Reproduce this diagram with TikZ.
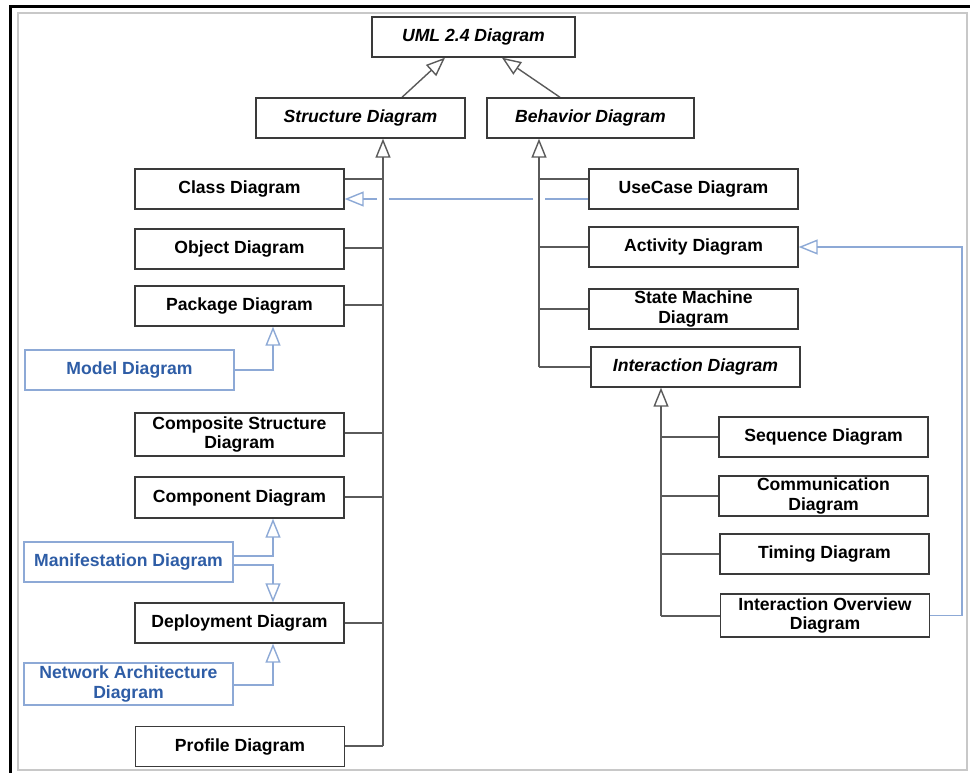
\documentclass[tikz,border=0pt]{standalone}
\usepackage{fontspec}
\setmainfont{Liberation Sans}
\usetikzlibrary{arrows.meta,backgrounds}
\definecolor{boxline}{HTML}{3A3A3A}
\definecolor{conline}{HTML}{5A5A5A}
\definecolor{bluetxt}{HTML}{2E5DA6}
\definecolor{blueline}{HTML}{8DA9D6}
\definecolor{framegray}{HTML}{C8C8C8}
\begin{document}
\begin{tikzpicture}[x=1pt,y=-1pt,
 box/.style={draw=boxline, line width=1.4pt, fill=white, minimum width=209pt, minimum height=40pt, inner sep=0pt, align=center, font=\fontsize{17.6}{19.5}\selectfont\bfseries},
 abox/.style={box, font=\fontsize{17.6}{19.5}\selectfont\bfseries\itshape},
 bbox/.style={box, draw=blueline, text=bluetxt},
 conn/.style={draw=conline, line width=1.4pt},
 bconn/.style={draw=blueline, line width=1.4pt},
 gen/.style={-{Triangle[open, length=19pt, width=15pt]}},
]
\useasboundingbox (0,0) rectangle (970,773);

% nodes
\node[abox, minimum width=203pt] (uml) at (473.5,37) {UML 2.4 Diagram};
\node[abox] (structure) at (360.5,118) {Structure Diagram};
\node[abox, minimum width=207pt] (behavior) at (590.5,118) {Behavior Diagram};

\node[box] (class) at (239.5,189) {Class Diagram};
\node[box] (object) at (239.5,249) {Object Diagram};
\node[box] (package) at (239.5,306) {Package Diagram};
\node[bbox] (model) at (129.5,370) {Model Diagram};
\node[box, minimum height=43pt] (composite) at (239.5,434.5) {Composite Structure\\Diagram};
\node[box, minimum height=41pt] (component) at (239.5,497.5) {Component Diagram};
\node[bbox] (manif) at (128.5,562) {Manifestation Diagram};
\node[box] (deploy) at (239.5,623) {Deployment Diagram};
\node[bbox, minimum height=42pt] (network) at (128.5,684) {Network Architecture\\Diagram};
\node[box] (profile) at (240,746.5) {Profile Diagram};

\node[box] (usecase) at (693.5,189) {UseCase Diagram};
\node[box] (activity) at (693.5,247) {Activity Diagram};
\node[box] (state) at (693.5,309) {State Machine\\Diagram};
\node[abox] (interaction) at (695.5,367) {Interaction Diagram};

\node[box] (sequence) at (823.5,437) {Sequence Diagram};
\node[box] (communication) at (823.5,496) {Communication\\Diagram};
\node[box] (timing) at (824.5,554) {Timing Diagram};
\node[box, minimum height=43pt] (overview) at (825,615.5) {Interaction Overview\\Diagram};

% bus coordinates
\coordinate (sbus) at (383,746);
\coordinate (bbus) at (539,367);
\coordinate (ibus) at (661,616);
\coordinate (rbus) at (962,0);
\coordinate (mx) at (273,0);

\begin{scope}[on background layer]
\fill[white] (0,0) rectangle (970,773);
% frame
\draw[framegray, line width=2pt] (18,13) rectangle (967,770);
\draw[black, line width=3pt] (10,773) -- (10,7) -- (970,7);

% top generalisations
\draw[conn, gen] ([xshift=41.5pt]structure.north) -- ([xshift=-28.5pt]uml.south);
\draw[conn, gen] ([xshift=-30.5pt]behavior.north) -- ([xshift=28.5pt]uml.south);

% blue relations (drawn under the grey buses)
\coordinate (g1a) at (545,199);
\coordinate (g1b) at (533,199);
\coordinate (g2a) at (389,199);
\coordinate (g2b) at (377,199);
\draw[bconn] (usecase.west |- g1a) -- (g1a);
\draw[bconn] (g1b) -- (g2a);
\draw[bconn, gen] (g2b) -- (class.east |- g2b);

\draw[bconn, gen] (model.east) -| (package.south -| mx);
\draw[bconn, gen] (manif.east |- 0,556) -| (component.south -| mx);
\draw[bconn, gen] (manif.east |- 0,565) -| (deploy.north -| mx);
\draw[bconn, gen] (network.east |- 0,685) -| (deploy.south -| mx);
\draw[bconn, gen] (overview.east) -| (rbus |- activity.east) -- (activity.east);

% structure bus
\draw[conn, gen] (sbus) -- (sbus |- structure.south);
\draw[conn] (class.east |- 0,179) -- (sbus |- 0,179);
\draw[conn] (object.east |- 0,248) -- (sbus |- 0,248);
\draw[conn] (package.east |- 0,305) -- (sbus |- 0,305);
\draw[conn] (composite.east |- 0,433) -- (sbus |- 0,433);
\draw[conn] (component.east |- 0,497) -- (sbus |- 0,497);
\draw[conn] (deploy.east |- 0,623) -- (sbus |- 0,623);
\draw[conn] (profile.east |- sbus) -- (sbus);

% behavior bus
\draw[conn, gen] (bbus) -- (bbus |- behavior.south);
\draw[conn] (usecase.west |- 0,179) -- (bbus |- 0,179);
\draw[conn] (activity.west) -- (bbus |- activity.west);
\draw[conn] (state.west) -- (bbus |- state.west);
\draw[conn] (interaction.west) -- (bbus);

% interaction bus
\draw[conn, gen] (ibus) -- (ibus |- interaction.south);
\draw[conn] (sequence.west) -- (ibus |- sequence.west);
\draw[conn] (communication.west) -- (ibus |- communication.west);
\draw[conn] (timing.west) -- (ibus |- timing.west);
\draw[conn] (overview.west |- ibus) -- (ibus);
\end{scope}
\end{tikzpicture}
\end{document}
